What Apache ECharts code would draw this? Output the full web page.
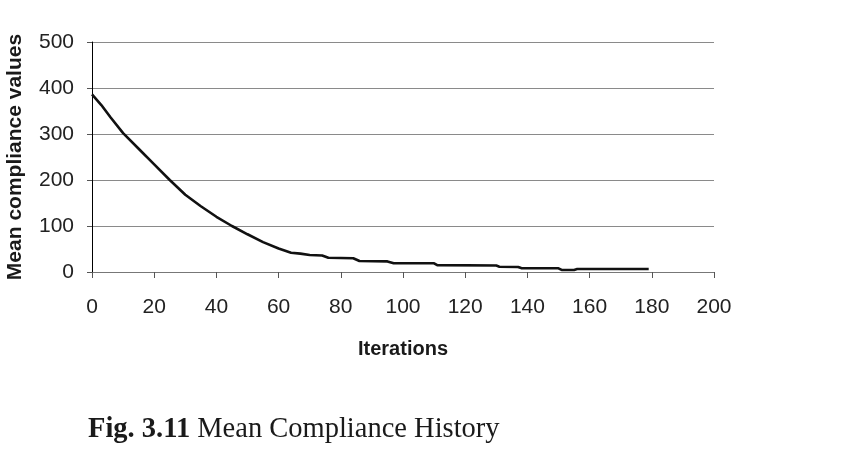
<!DOCTYPE html>
<html>
<head>
<meta charset="utf-8">
<script src="https://cdn.jsdelivr.net/npm/echarts@6/dist/echarts.min.js"></script>
<style>
html,body{margin:0;padding:0;background:#fff;}
#chart{width:860px;height:454px;}
</style>
</head>
<body>
<div id="chart"></div>
<script>
// Data
const iterations = [0, 3, 6, 10, 15, 20, 25, 30, 35, 40, 45, 50, 55, 60, 64, 67, 70, 74, 76, 84, 86, 95, 97, 110, 111, 130, 131, 137, 138, 150, 151, 155, 156, 179];
const compliance = [386, 363, 336, 302, 268, 234, 200, 168, 143, 120, 100, 82, 65, 51, 42, 40, 37, 36, 31, 30, 24, 23, 19, 19, 15, 14, 11.5, 11, 8.5, 8, 4.5, 4.5, 6.5, 6.5];
const xTicks = [0, 20, 40, 60, 80, 100, 120, 140, 160, 180, 200];
const yTicks = [0, 100, 200, 300, 400, 500];
const xTitle = 'Iterations';
const yTitle = 'Mean compliance values';

const chart = echarts.init(document.getElementById('chart'), null, {renderer: 'canvas'});
const pts = iterations.map((x, i) => [x, compliance[i]]);
chart.setOption({
  animation: false,
  backgroundColor: '#ffffff',
  grid: {left: 92, right: 146, top: 42, bottom: 182, containLabel: false, outerBoundsMode: 'none'},
  xAxis: {
    type: 'value', min: xTicks[0], max: xTicks[xTicks.length - 1], interval: 20,
    name: xTitle, nameLocation: 'middle', nameGap: 67,
    nameTextStyle: {fontFamily: 'Liberation Sans', fontWeight: 'bold', fontSize: 20, color: '#1a1a1a'},
    axisLine: {show: true, onZero: false, lineStyle: {color: '#777', width: 1}},
    axisTick: {show: true, length: 6, inside: false, lineStyle: {color: '#555'}},
    axisLabel: {margin: 25, fontFamily: 'Liberation Sans', fontSize: 21, color: '#222'},
    splitLine: {show: false}
  },
  yAxis: {
    type: 'value', min: yTicks[0], max: yTicks[yTicks.length - 1], interval: 100,
    name: yTitle, nameLocation: 'middle', nameGap: 66, nameRotate: 90,
    nameTextStyle: {fontFamily: 'Liberation Sans', fontWeight: 'bold', fontSize: 21, color: '#1a1a1a'},
    axisLine: {show: true, lineStyle: {color: '#000', width: 1}},
    axisTick: {show: true, length: 5, lineStyle: {color: '#555'}},
    axisLabel: {margin: 18, fontFamily: 'Liberation Sans', fontSize: 21, color: '#222'},
    splitLine: {show: true, lineStyle: {color: '#8a8a8a', width: 1}}
  },
  series: [{
    type: 'line', data: pts, showSymbol: false, symbol: 'none',
    lineStyle: {color: '#111', width: 2.6}, smooth: false
  }],
  graphic: [{
    type: 'text', left: 88, top: 415,
    style: {
      text: '{b|Fig. 3.11} {r|Mean Compliance History}',
      rich: {
        b: {fontFamily: 'Liberation Serif', fontWeight: 'bold', fontSize: 28.5, fill: '#1a1a1a'},
        r: {fontFamily: 'Liberation Serif', fontSize: 28.5, fill: '#1a1a1a'}
      },
      font: '28.5px Liberation Serif'
    }
  }]
});
</script>
</body>
</html>
